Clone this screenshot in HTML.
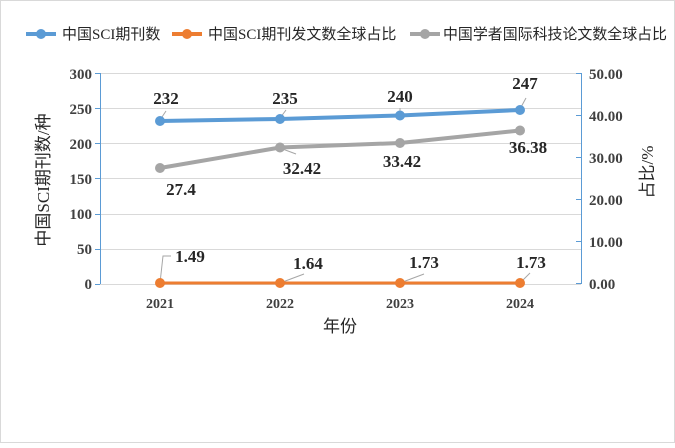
<!DOCTYPE html>
<html><head><meta charset="utf-8"><style>
body{margin:0;background:#fff}
text{font-family:"Liberation Serif","Noto Serif CJK SC",serif}
.cj{font-family:"Liberation Serif","Noto Sans CJK SC",sans-serif}
</style></head><body>
<svg width="675" height="443" xmlns="http://www.w3.org/2000/svg">
<rect x="0.5" y="0.5" width="674" height="442" fill="#fff" stroke="#d9d9d9"/>
<g font-size="15" fill="#262626">
<line x1="26" y1="34" x2="56" y2="34" stroke="#5b9bd5" stroke-width="4"/><circle cx="41" cy="34" r="5" fill="#5b9bd5"/>
<text x="62" y="39" class="cj">中国SCI期刊数</text>
<line x1="172" y1="34" x2="202" y2="34" stroke="#ed7d31" stroke-width="4"/><circle cx="187" cy="34" r="5" fill="#ed7d31"/>
<text x="208" y="39" class="cj">中国SCI期刊发文数全球占比</text>
<line x1="410" y1="34" x2="440" y2="34" stroke="#a5a5a5" stroke-width="4"/><circle cx="425" cy="34" r="5" fill="#a5a5a5"/>
<text x="443" y="39" class="cj" textLength="224" lengthAdjust="spacingAndGlyphs">中国学者国际科技论文数全球占比</text>
</g>
<g stroke="#d9d9d9" stroke-width="1">
<line x1="100" y1="73.5" x2="581" y2="73.5"/><line x1="100" y1="108.5" x2="581" y2="108.5"/>
<line x1="100" y1="143.5" x2="581" y2="143.5"/><line x1="100" y1="178.5" x2="581" y2="178.5"/>
<line x1="100" y1="214.5" x2="581" y2="214.5"/><line x1="100" y1="249.5" x2="581" y2="249.5"/>
<line x1="100" y1="284.5" x2="581" y2="284.5"/>
</g>
<g stroke="#5b9bd5" stroke-width="1">
<line x1="100.5" y1="73" x2="100.5" y2="284"/>
<line x1="95" y1="73.5" x2="100" y2="73.5"/><line x1="95" y1="108.5" x2="100" y2="108.5"/><line x1="95" y1="143.5" x2="100" y2="143.5"/><line x1="95" y1="178.5" x2="100" y2="178.5"/><line x1="95" y1="214.5" x2="100" y2="214.5"/><line x1="95" y1="249.5" x2="100" y2="249.5"/><line x1="95" y1="284.5" x2="100" y2="284.5"/>
<line x1="581.5" y1="73" x2="581.5" y2="284"/>
<line x1="576" y1="73.5" x2="581" y2="73.5"/><line x1="576" y1="115.5" x2="581" y2="115.5"/><line x1="576" y1="157.5" x2="581" y2="157.5"/><line x1="576" y1="199.5" x2="581" y2="199.5"/><line x1="576" y1="241.5" x2="581" y2="241.5"/><line x1="576" y1="283.5" x2="581" y2="283.5"/>
</g>
<g font-size="15" font-weight="bold" fill="#404040" text-anchor="end">
<text x="92" y="79">300</text><text x="92" y="114">250</text><text x="92" y="149">200</text><text x="92" y="184">150</text><text x="92" y="219">100</text><text x="92" y="254">50</text><text x="92" y="289">0</text>
</g>
<g font-size="15" font-weight="bold" fill="#404040">
<text x="589" y="79">50.00</text><text x="589" y="121">40.00</text><text x="589" y="163">30.00</text><text x="589" y="205">20.00</text><text x="589" y="247">10.00</text><text x="589" y="289">0.00</text>
</g>
<g font-size="14" font-weight="bold" fill="#404040" text-anchor="middle">
<text x="160" y="308">2021</text><text x="280" y="308">2022</text><text x="400" y="308">2023</text><text x="520" y="308">2024</text>
</g>
<text x="340" y="332" font-size="17" fill="#262626" text-anchor="middle" class="cj">年份</text>
<text transform="translate(49,180) rotate(-90)" font-size="17" fill="#262626" text-anchor="middle" class="cj">中国SCI期刊数/种</text>
<text transform="translate(653,172) rotate(-90)" font-size="17" fill="#262626" text-anchor="middle" class="cj">占比/%</text>
<g stroke="#a6a6a6" stroke-width="1" fill="none">
<line x1="160" y1="120" x2="166" y2="111"/><line x1="280" y1="118" x2="286" y2="110"/><line x1="400" y1="114" x2="400" y2="108"/><line x1="520" y1="109" x2="526" y2="98"/>
<polyline points="160,283 163,256 171,256"/><line x1="280" y1="283" x2="304" y2="274"/><line x1="400" y1="283" x2="424" y2="274"/><line x1="520" y1="283" x2="530" y2="273"/>
<line x1="280" y1="148" x2="296" y2="154"/>
</g>
<polyline points="160,121 280,119 400,115.5 520,110" fill="none" stroke="#5b9bd5" stroke-width="4"/>
<g fill="#5b9bd5"><circle cx="160" cy="121" r="5"/><circle cx="280" cy="119" r="5"/><circle cx="400" cy="115.5" r="5"/><circle cx="520" cy="110" r="5"/></g>
<polyline points="160,168 280,147.5 400,143 520,130.5" fill="none" stroke="#a5a5a5" stroke-width="4"/>
<g fill="#a5a5a5"><circle cx="160" cy="168" r="5"/><circle cx="280" cy="147.5" r="5"/><circle cx="400" cy="143" r="5"/><circle cx="520" cy="130.5" r="5"/></g>
<polyline points="160,283 280,283 400,283 520,283" fill="none" stroke="#ed7d31" stroke-width="3"/>
<g fill="#ed7d31"><circle cx="160" cy="283" r="5"/><circle cx="280" cy="283" r="5"/><circle cx="400" cy="283" r="5"/><circle cx="520" cy="283" r="5"/></g>
<g font-size="17" font-weight="bold" fill="#262626" text-anchor="middle">
<text x="166" y="104">232</text><text x="285" y="104">235</text><text x="400" y="102">240</text><text x="525" y="89">247</text>
<text x="181" y="195">27.4</text><text x="302" y="174">32.42</text><text x="402" y="167">33.42</text><text x="528" y="153">36.38</text>
<text x="190" y="262">1.49</text><text x="308" y="269">1.64</text><text x="424" y="268">1.73</text><text x="531" y="268">1.73</text>
</g>
</svg>
</body></html>
